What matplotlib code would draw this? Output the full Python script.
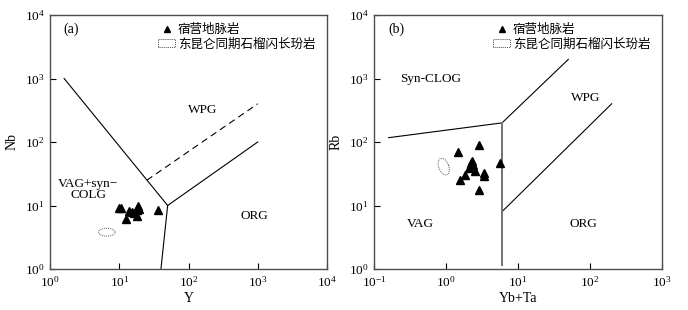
import numpy as np
import matplotlib
matplotlib.use('Agg')
import matplotlib.pyplot as plt
from matplotlib.lines import Line2D
from matplotlib.patches import Patch

plt.rcParams['font.family'] = ['Liberation Serif', 'Noto Sans CJK SC']
plt.rcParams['mathtext.fontset'] = 'stix'

# (a) Nb-Y
a_y = [9.9, 10.6, 13.8, 18.4, 17.8, 16.5, 18.0, 12.6, 15.1, 35.8, 19.2]
a_nb = [9.0, 9.0, 8.2, 9.9, 8.5, 7.5, 6.9, 6.1, 7.8, 8.4, 8.8]
# field boundaries (Pearce et al. 1984)
a_solid = [([1.6, 50], [1000, 10]), ([50, 40], [10, 1]), ([50, 1000], [10, 100])]
a_dash = ([25, 1000], [25, 400])
a_ell = (6.6, 3.8, 0.12, 0.062)  # centre x, y, half widths in decades

# (b) Rb-(Yb+Ta)
b_ybta = [1.48, 2.85, 2.31, 2.26, 2.09, 2.53, 1.84, 1.54, 3.34, 3.37, 2.88, 5.62, 2.40]
b_rb = [68.8, 88.7, 50.7, 46.3, 38.5, 35.3, 30.2, 25.2, 32.1, 29.1, 17.5, 46.2, 44.0]
b_solid = [([0.16, 6], [117, 200]), ([6, 50], [200, 2000]), ([6, 200], [8, 400])]
b_vert = ([6, 6], [200, 1.15])
b_ell = (0.93, 41.0, 0.07, 0.135)

leg1 = '宿营地脉岩'
leg2 = '东昆仑同期石榴闪长玢岩'

fig = plt.figure(figsize=(6.88, 3.10), dpi=100)
axa = fig.add_axes([50/688, 41/310, 277/688, 254/310])
axb = fig.add_axes([374/688, 41/310, 288/688, 254/310])


def ellipse(ax, e, angle=0.0):
    cx, cy, rx, ry = e
    t = np.linspace(0, 2*np.pi, 100)
    lx = rx*np.cos(t)
    ly = ry*np.sin(t)
    xr = lx*np.cos(angle) - ly*np.sin(angle)
    yr = lx*np.sin(angle) + ly*np.cos(angle)
    ax.plot(10**(np.log10(cx) + xr), 10**(np.log10(cy) + yr), color='0.35', lw=0.7, ls=(0, (1, 1)))


def style(ax):
    ax.set_xscale('log')
    ax.set_yscale('log')
    ax.tick_params(which='major', direction='in', length=4, width=0.8, labelsize=9.5, pad=4)
    ax.tick_params(which='minor', length=0)
    for s in ax.spines.values():
        s.set_color('0.3')
        s.set_linewidth(1.0)
    handles = [Line2D([], [], marker='^', color='k', ls='none', markersize=5),
               Patch(facecolor='none', edgecolor='0.3', linestyle=(0, (1, 1)), linewidth=0.7)]
    ax.legend(handles, [leg1, leg2], loc='upper right', bbox_to_anchor=(0.99, 1.0), frameon=False,
              fontsize=9, handlelength=1.4, handleheight=0.6, handletextpad=0.2, labelspacing=0.2,
              borderaxespad=0.3)


# panel a
for xs, ys in a_solid:
    axa.plot(xs, ys, color='k', lw=0.8)
axa.plot(a_dash[0], a_dash[1], color='k', lw=0.8, ls=(0, (6, 4)))
axa.plot(a_y, a_nb, '^', color='k', markersize=5.5)
ellipse(axa, a_ell)
axa.set_xlim(1, 1e4)
axa.set_ylim(1, 1e4)
axa.set_xlabel('Y', fontsize=10, labelpad=2)
axa.set_ylabel('Nb', fontsize=10, labelpad=4)
style(axa)
axa.text(0.05, 0.93, '(a)', transform=axa.transAxes, fontsize=10)
axa.text(10**2.2, 10**2.5, 'WPG', fontsize=9.5, ha='center', va='center')
axa.text(10**0.55, 10**1.25, 'VAG+syn−\nCOLG', fontsize=9.5, ha='center', va='center', linespacing=0.95)
axa.text(10**2.95, 10**0.83, 'ORG', fontsize=9.5, ha='center', va='center')

# panel b
for xs, ys in b_solid:
    axb.plot(xs, ys, color='k', lw=0.8)
axb.plot(b_vert[0], b_vert[1], color='0.45', lw=1.4)
axb.plot(b_ybta, b_rb, '^', color='k', markersize=5.5)
ellipse(axb, b_ell, angle=0.3)
axb.set_xlim(0.1, 1e3)
axb.set_ylim(1, 1e4)
axb.set_xlabel('Yb+Ta', fontsize=10, labelpad=2)
axb.set_ylabel('Rb', fontsize=10, labelpad=4)
style(axb)
axb.text(0.05, 0.93, '(b)', transform=axb.transAxes, fontsize=10)
axb.text(10**-0.22, 10**2.99, 'Syn-CLOG', fontsize=9.5, ha='center', va='center')
axb.text(10**1.94, 10**2.69, 'WPG', fontsize=9.5, ha='center', va='center')
axb.text(10**-0.35, 10**0.71, 'VAG', fontsize=9.5, ha='center', va='center')
axb.text(10**1.91, 10**0.71, 'ORG', fontsize=9.5, ha='center', va='center')

fig.savefig('out.png', dpi=100)
